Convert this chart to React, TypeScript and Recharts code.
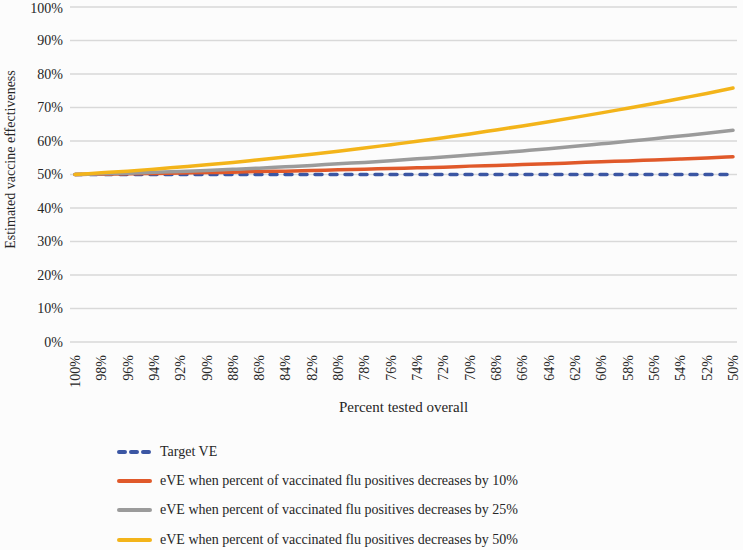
import React from "react";
import {
    LineChart,
    Line,
    XAxis,
    YAxis,
    CartesianGrid,
    Legend,
} from "recharts";

// percent tested overall, 100% down to 50%
const PERCENT_TESTED = [
    100, 98, 96, 94, 92, 90, 88, 86, 84, 82, 80, 78, 76,
    74, 72, 70, 68, 66, 64, 62, 60, 58, 56, 54, 52, 50,
];

const TARGET_VE = [
    50, 50, 50, 50, 50, 50, 50, 50, 50, 50, 50, 50, 50,
    50, 50, 50, 50, 50, 50, 50, 50, 50, 50, 50, 50, 50,
];

const EVE_10 = [
    50.0, 50.1, 50.2, 50.3, 50.45, 50.6, 50.7, 50.9, 51.0, 51.2, 51.4, 51.6, 51.8,
    52.0, 52.2, 52.5, 52.7, 52.95, 53.2, 53.5, 53.8, 54.05, 54.35, 54.65, 54.95, 55.3,
];

const EVE_25 = [
    50.0, 50.2, 50.4, 50.65, 50.9, 51.2, 51.55, 51.9, 52.3, 52.7, 53.2, 53.6, 54.1,
    54.7, 55.2, 55.8, 56.4, 57.05, 57.7, 58.4, 59.15, 59.9, 60.7, 61.5, 62.3, 63.2,
];

const EVE_50 = [
    50.0, 50.5, 51.0, 51.6, 52.25, 52.9, 53.6, 54.4, 55.2, 56.05, 56.95, 57.9, 58.9,
    59.9, 61.0, 62.1, 63.3, 64.5, 65.75, 67.05, 68.4, 69.8, 71.2, 72.7, 74.2, 75.8,
];

const Y_TICKS = [0, 10, 20, 30, 40, 50, 60, 70, 80, 90, 100];

const SERIES = [
    { key: "target", name: "Target VE", color: "#3b56a3", dashed: true },
    { key: "d10", name: "eVE when percent of vaccinated flu positives decreases by 10%", color: "#e0592a", dashed: false },
    { key: "d25", name: "eVE when percent of vaccinated flu positives decreases by 25%", color: "#9b9b9b", dashed: false },
    { key: "d50", name: "eVE when percent of vaccinated flu positives decreases by 50%", color: "#f3b41a", dashed: false },
];

const FONT = "'Liberation Serif', 'DejaVu Serif', serif";
const TEXT = "#262626";

const data = PERCENT_TESTED.map((p, i) => ({
    label: `${p}%`,
    target: TARGET_VE[i],
    d10: EVE_10[i],
    d25: EVE_25[i],
    d50: EVE_50[i],
}));

function XTick({ x, y, payload }: any) {
    return (
        <g transform={`translate(${x},${y})`}>
            <text
                transform="rotate(-90)"
                x={-13}
                y={0}
                dy="0.35em"
                textAnchor="end"
                fontFamily={FONT}
                fontSize={14}
                fill={TEXT}
            >
                {payload.value}
            </text>
        </g>
    );
}

function YTitle({ viewBox }: any) {
    const cy = viewBox.y + viewBox.height / 2 - 15;
    return (
        <text
            transform={`translate(10,${cy}) rotate(-90)`}
            textAnchor="middle"
            dominantBaseline="central"
            fontFamily={FONT}
            fontSize={14}
            fill={TEXT}
        >
            Estimated vaccine effectiveness
        </text>
    );
}

function XTitle({ viewBox }: any) {
    return (
        <text
            x={viewBox.x + viewBox.width / 2}
            y={viewBox.y + 65}
            textAnchor="middle"
            dominantBaseline="central"
            fontFamily={FONT}
            fontSize={15}
            fill={TEXT}
        >
            Percent tested overall
        </text>
    );
}

function LegendBox() {
    return (
        <div style={{ fontFamily: FONT, fontSize: 14, color: TEXT }}>
            {SERIES.map((s) => (
                <div
                    key={s.key}
                    style={{ height: 29.3, display: "flex", alignItems: "center" }}
                >
                    <svg width={160} height={10} style={{ flex: "none" }}>
                        <line
                            x1={119}
                            y1={5}
                            x2={150}
                            y2={5}
                            stroke={s.color}
                            strokeWidth={4}
                            strokeLinecap="round"
                            strokeDasharray={s.dashed ? "6 6" : undefined}
                        />
                    </svg>
                    <span style={{ whiteSpace: "nowrap" }}>{s.name}</span>
                </div>
            ))}
        </div>
    );
}

export default function App() {
    return (
        <div
            style={{
                position: "absolute",
                left: 0,
                top: 0,
                width: 743,
                height: 550,
                background: "#fcfcfc",
            }}
        >
            <LineChart
                width={743}
                height={550}
                data={data}
                margin={{ top: 7, right: 6, left: 0, bottom: 128 }}
            >
                <CartesianGrid
                    vertical={false}
                    stroke="#d9d9d9"
                    strokeWidth={1.5}
                />
                <XAxis
                    dataKey="label"
                    interval={0}
                    height={80}
                    tickLine={false}
                    axisLine={false}
                    tickSize={0}
                    tickMargin={0}
                    padding={{ left: 5, right: 4 }}
                    tick={<XTick />}
                    label={<XTitle />}
                />
                <YAxis
                    width={70}
                    domain={[0, 100]}
                    ticks={Y_TICKS}
                    tickFormatter={(v: number) => `${v}%`}
                    tickLine={false}
                    axisLine={false}
                    tickSize={0}
                    tickMargin={7}
                    tick={{ fontFamily: FONT, fontSize: 14, fill: TEXT }}
                    label={<YTitle />}
                />
                {SERIES.map((s) => (
                    <Line
                        key={s.key}
                        dataKey={s.key}
                        name={s.name}
                        type="monotone"
                        stroke={s.color}
                        strokeWidth={3.5}
                        strokeDasharray={s.dashed ? "7 8" : undefined}
                        strokeLinecap="round"
                        dot={false}
                        activeDot={false}
                        isAnimationActive={false}
                    />
                ))}
                <Legend
                    layout="horizontal"
                    verticalAlign="middle"
                    align="center"
                    content={<LegendBox />}
                    wrapperStyle={{ top: 437, left: 0, width: 743 }}
                />
            </LineChart>
        </div>
    );
}
